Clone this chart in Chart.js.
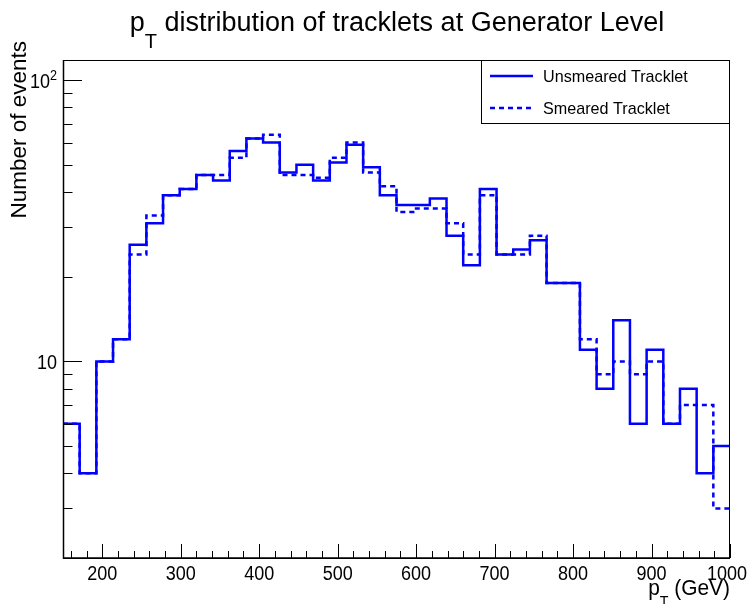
<!DOCTYPE html>
<html>
<head>
<meta charset="utf-8">
<script src="https://cdn.jsdelivr.net/npm/chart.js@4.4.0/dist/chart.umd.min.js"></script>
<style>
  html, body { margin: 0; padding: 0; background: #fff; }
  #c { display: block; }
</style>
</head>
<body>
<canvas id="c" width="751" height="604"></canvas>
<script>
// histogram range: 40 bins between 150 and 1000 GeV
var xMin = 150, xMax = 1000;
var unsmeared = [6, 4, 10, 12, 26, 31, 39, 41, 46, 44,
                 56, 62, 60, 47, 50, 44, 51, 59, 49, 39,
                 36, 36, 38, 28, 22, 41, 24, 25, 27, 19,
                 19, 11, 8, 14, 6, 11, 6, 8, 4, 5];
var smeared   = [6, 4, 10, 12, 24, 33, 39, 41, 46, 46,
                 53, 62, 64, 46, 46, 45, 53, 60, 47, 42,
                 34, 35, 35, 31, 24, 39, 24, 24, 28, 19,
                 19, 12, 9, 10, 9, 10, 6, 7, 7, 3];
var seriesNames = ['Unsmeared Tracklet', 'Smeared Tracklet'];
var xTicks = [200, 300, 400, 500, 600, 700, 800, 900, 1000];
var xTickLabels = ['200', '300', '400', '500', '600', '700', '800', '900', '1000'];
var yMajor = [10, 100];
var yMajorLabels = [['10', ''], ['10', '2']];
var yMinor = [3, 4, 5, 6, 7, 8, 9, 20, 30, 40, 50, 60, 70, 80, 90];

var FONT = '"Liberation Sans", Arial, Helvetica, sans-serif';
var BLUE = '#0000ff';

// bin contents -> step points at the left edge of each bin (+ closing point)
function histPoints(vals){
  var w = (xMax - xMin) / vals.length;
  var pts = vals.map(function(v, i){ return {x: xMin + i * w, y: v}; });
  pts.push({x: xMax, y: vals[vals.length - 1]});
  return pts;
}

function txt(ctx, s, x, y, size, align, sx){
  ctx.save();
  ctx.translate(x, y);
  ctx.scale(sx || 1, 1);
  ctx.font = size + 'px ' + FONT;
  ctx.textAlign = align || 'left';
  ctx.textBaseline = 'alphabetic';
  ctx.fillStyle = '#000';
  ctx.fillText(s, 0, 0);
  ctx.restore();
}
function txtW(ctx, s, size, sx){
  ctx.font = size + 'px ' + FONT;
  return ctx.measureText(s).width * (sx || 1);
}

// ROOT-like frame: inward ticks, labels, titles, legend
var rootFrame = {
  id: 'rootFrame',
  afterDraw: function(chart){
    var ctx = chart.ctx, a = chart.chartArea;
    var xs = chart.scales.x, ys = chart.scales.y;
    ctx.save();
    ctx.strokeStyle = '#000';
    ctx.lineWidth = 1;
    ctx.strokeRect(a.left + 0.5, a.top + 0.5, a.right - a.left - 1, a.bottom - a.top);

    // x axis ticks (primary every 100, secondary every 20)
    ctx.beginPath();
    for (var v = 160; v <= xMax; v += 20){
      var px = Math.round(xs.getPixelForValue(v)) + 0.5;
      var len = (v % 100 === 0) ? 14 : 7;
      ctx.moveTo(px, a.bottom);
      ctx.lineTo(px, a.bottom - len);
    }
    // y axis ticks (log)
    yMajor.forEach(function(t){
      var py = Math.round(ys.getPixelForValue(t)) + 0.5;
      ctx.moveTo(a.left, py); ctx.lineTo(a.left + 19, py);
    });
    yMinor.forEach(function(t){
      var py = Math.round(ys.getPixelForValue(t)) + 0.5;
      ctx.moveTo(a.left, py); ctx.lineTo(a.left + 9.5, py);
    });
    ctx.stroke();
    ctx.lineWidth = 1.5;
    ctx.beginPath();
    ctx.moveTo(a.left + 0.5, a.top); ctx.lineTo(a.left + 0.5, a.bottom);
    ctx.lineTo(a.right, a.bottom);
    ctx.stroke();

    // x tick labels
    xTicks.forEach(function(t, i){
      var px = xs.getPixelForValue(t);
      if (i === xTicks.length - 1) px -= 3;
      txt(ctx, xTickLabels[i], px, 580, 20, 'center', 0.9);
    });
    // y tick labels
    yMajor.forEach(function(t, i){
      var py = ys.getPixelForValue(t) + 7.5;
      var lab = yMajorLabels[i];
      if (lab[1]){
        var ew = txtW(ctx, lab[1], 14, 0.9);
        txt(ctx, lab[1], 57, py - 8, 14, 'right', 0.9);
        txt(ctx, lab[0], 57 - ew, py, 20, 'right', 0.9);
      } else {
        txt(ctx, lab[0], 57, py, 20, 'right', 0.9);
      }
    });

    // x axis title: p_T (GeV), right aligned at the axis end
    var s1 = 22, sSub = 15, sxT = 0.95;
    var wp = txtW(ctx, 'p', s1, sxT), wT = txtW(ctx, 'T', sSub, sxT), wg = txtW(ctx, ' (GeV)', s1, sxT);
    var x0 = a.right - (wp + wT + wg);
    txt(ctx, 'p', x0, 595, s1, 'left', sxT);
    txt(ctx, 'T', x0 + wp, 606, sSub, 'left', sxT);
    txt(ctx, ' (GeV)', x0 + wp + wT, 595, s1, 'left', sxT);

    // y axis title, rotated, aligned to the top end
    ctx.save();
    ctx.translate(26, 41);
    ctx.rotate(-Math.PI / 2);
    txt(ctx, 'Number of events', 0, 0, 22.5, 'right', 1);
    ctx.restore();

    // chart title with subscript
    var tS = 27, tSub = 20;
    var tp = txtW(ctx, 'p', tS), tT = txtW(ctx, 'T', tSub);
    var rest = ' distribution of tracklets at Generator Level';
    var tr = txtW(ctx, rest, tS);
    var tx = 397 - (tp + tT + tr) / 2;
    txt(ctx, 'p', tx, 31, tS, 'left');
    txt(ctx, 'T', tx + tp, 48, tSub, 'left');
    txt(ctx, rest, tx + tp + tT, 31, tS, 'left');

    // legend box
    var lx = 481, ly = a.top, lw = a.right - 481, lh = 63;
    ctx.fillStyle = '#fff';
    ctx.fillRect(lx, ly, lw, lh);
    ctx.lineWidth = 1;
    ctx.strokeStyle = '#000';
    ctx.strokeRect(lx + 0.5, ly + 0.5, lw - 1, lh);
    chart.data.datasets.forEach(function(ds, i){
      var yy = ly + 16 + i * 32;
      ctx.save();
      ctx.strokeStyle = ds.borderColor;
      ctx.lineWidth = ds.borderWidth;
      ctx.setLineDash(ds.borderDash || []);
      ctx.beginPath();
      ctx.moveTo(490, yy); ctx.lineTo(533, yy);
      ctx.stroke();
      ctx.restore();
      txt(ctx, ds.label, 543, yy + 6, 17, 'left', 0.95);
    });
    ctx.restore();
  }
};

var chart = new Chart(document.getElementById('c'), {
  type: 'line',
  data: {
    datasets: [
      {
        label: seriesNames[0],
        data: histPoints(unsmeared),
        borderColor: BLUE,
        borderWidth: 2.5,
        stepped: 'before',
        pointRadius: 0,
        fill: false
      },
      {
        label: seriesNames[1],
        data: histPoints(smeared),
        borderColor: BLUE,
        borderWidth: 2.5,
        borderDash: [5, 4],
        stepped: 'before',
        pointRadius: 0,
        fill: false
      }
    ]
  },
  options: {
    responsive: false,
    animation: false,
    devicePixelRatio: 1,
    layout: { padding: { left: 63, right: 21, top: 60, bottom: 46 } },
    plugins: {
      legend: { display: false },
      title: { display: false },
      tooltip: { enabled: false }
    },
    scales: {
      x: { type: 'linear', min: xMin, max: xMax, display: false },
      y: { type: 'logarithmic', min: 2, max: 118, display: false }
    }
  },
  plugins: [rootFrame]
});
</script>
</body>
</html>
